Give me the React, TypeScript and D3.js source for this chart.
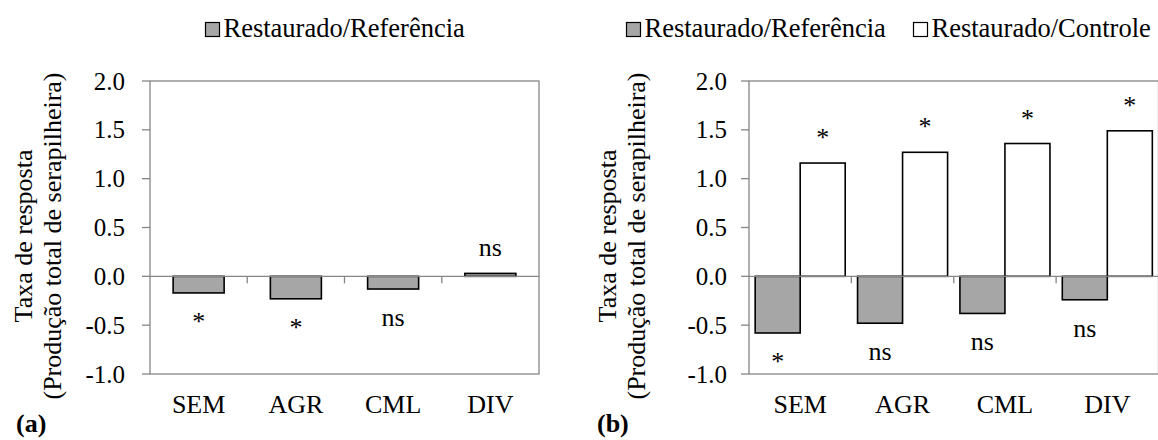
import React from "react";
import * as d3 from "d3";

// Categories and response ratios
const categories = ["SEM", "AGR", "CML", "DIV"];
const seriesNames = ["Restaurado/Referência", "Restaurado/Controle"];

// Panel (a): Restaurado/Referência
const refValuesA = [-0.17, -0.23, -0.13, 0.03];
const sigRefA = ["*", "*", "ns", "ns"];

// Panel (b): Restaurado/Referência and Restaurado/Controle
const refValuesB = [-0.58, -0.48, -0.38, -0.24];
const sigRefB = ["*", "ns", "ns", "ns"];
const ctrlValuesB = [1.16, 1.27, 1.36, 1.49];
const sigCtrlB = ["*", "*", "*", "*"];

const yTicks = [-1.0, -0.5, 0.0, 0.5, 1.0, 1.5, 2.0];
const yTitle = ["Taxa de resposta", "(Produção total de serapilheira)"];
const panelLabels = ["(a)", "(b)"];

const FONT = "'Liberation Serif', 'Times New Roman', serif";
const AXIS = "#868686";
const GRAY = "#a6a6a6";

type Series = { name: string; values: number[]; sig: string[]; fill: string };

function Panel(props: {
  left: number;
  right: number;
  series: Series[];
  outerPad: number;
  legendX: number;
  titleX: [number, number];
  label: string;
  labelX: number;
  tickLabelGap: number;
}) {
  const { left, right, series, outerPad, legendX, titleX, label, labelX } = props;
  const top = 81;
  const bottom = 374;
  const y = d3.scaleLinear().domain([-1, 2]).range([bottom, top]);
  const x0 = d3.scaleBand<string>().domain(categories).range([left, right]).padding(0);
  const x1 = d3
    .scaleBand<string>()
    .domain(series.map((s) => s.name))
    .range([0, x0.bandwidth()])
    .paddingInner(0)
    .paddingOuter(outerPad);
  const y0 = y(0);
  const midY = 236;

  // legend entries laid out left to right
  const legendItems = series.map((s, k) => ({ s, x: legendX + k * 287 }));

  return (
    <g>
      {/* legend */}
      {legendItems.map(({ s, x }) => (
        <g key={s.name}>
          <rect x={x + 0.5} y={22.5} width={14} height={14} fill={s.fill} stroke="#000" strokeWidth={1.2} />
          <text x={x + 18.5} y={37} fontSize={26.5} fontFamily={FONT} fill="#000">
            {s.name}
          </text>
        </g>
      ))}

      {/* plot frame */}
      <rect x={left} y={top} width={right - left} height={bottom - top} fill="none" stroke={AXIS} strokeWidth={1.3} />

      {/* y ticks */}
      {yTicks.map((t) => (
        <g key={t}>
          <line x1={left - 8} x2={left} y1={y(t)} y2={y(t)} stroke={AXIS} strokeWidth={1.3} />
          <text
            x={left - props.tickLabelGap}
            y={y(t)}
            dy="0.34em"
            textAnchor="end"
            fontSize={25}
            fontFamily={FONT}
            fill="#000"
          >
            {t.toFixed(1)}
          </text>
        </g>
      ))}

      {/* bars */}
      {series.map((s) =>
        s.values.map((v, i) => {
          const bx = (x0(categories[i]) as number) + (x1(s.name) as number);
          const yv = y(v);
          return (
            <rect
              key={s.name + i}
              x={bx}
              y={Math.min(yv, y0)}
              width={x1.bandwidth()}
              height={Math.abs(yv - y0)}
              fill={s.fill}
              stroke="#000"
              strokeWidth={1.6}
            />
          );
        })
      )}

      {/* category axis at zero */}
      <line x1={left} x2={right} y1={y0} y2={y0} stroke={AXIS} strokeWidth={1.3} />
      {categories.slice(1).map((c) => (
        <line
          key={c}
          x1={x0(c) as number}
          x2={x0(c) as number}
          y1={y0}
          y2={y0 + 7}
          stroke={AXIS}
          strokeWidth={1.3}
        />
      ))}

      {/* significance labels */}
      {series.map((s) =>
        s.values.map((v, i) => {
          const cx = (x0(categories[i]) as number) + (x1(s.name) as number) + x1.bandwidth() / 2;
          const ty = v >= 0 ? y(v) - 17 : y(v) + 37;
          return (
            <text
              key={"sig" + s.name + i}
              x={cx}
              y={ty}
              textAnchor="middle"
              fontSize={26}
              fontFamily={FONT}
              fill="#000"
            >
              {s.sig[i]}
            </text>
          );
        })
      )}

      {/* category labels */}
      {categories.map((c) => (
        <text
          key={c}
          x={(x0(c) as number) + x0.bandwidth() / 2}
          y={413}
          textAnchor="middle"
          fontSize={26}
          fontFamily={FONT}
          fill="#000"
        >
          {c}
        </text>
      ))}

      {/* y axis title */}
      {yTitle.map((t, k) => (
        <text
          key={t}
          transform={`translate(${titleX[k]},${midY}) rotate(-90)`}
          textAnchor="middle"
          fontSize={26}
          fontFamily={FONT}
          fill="#000"
        >
          {t}
        </text>
      ))}

      {/* panel label */}
      <text x={labelX} y={432} fontSize={26} fontWeight="bold" fontFamily={FONT} fill="#000">
        {label}
      </text>
    </g>
  );
}

export default function App() {
  const seriesA: Series[] = [{ name: seriesNames[0], values: refValuesA, sig: sigRefA, fill: GRAY }];
  const seriesB: Series[] = [
    { name: seriesNames[0], values: refValuesB, sig: sigRefB, fill: GRAY },
    { name: seriesNames[1], values: ctrlValuesB, sig: sigCtrlB, fill: "#ffffff" },
  ];
  return (
    <svg
      width={1158}
      height={440}
      style={{ position: "absolute", left: 0, top: 0, background: "#fff" }}
    >
      <rect width={1158} height={440} fill="#fff" />
      <Panel
        left={150}
        right={539}
        series={seriesA}
        outerPad={0.453}
        legendX={205}
        titleX={[32, 61]}
        label={panelLabels[0]}
        labelX={16}
        tickLabelGap={25}
      />
      <Panel
        left={749}
        right={1158.5}
        series={seriesB}
        outerPad={0.137}
        legendX={626}
        titleX={[616, 645]}
        label={panelLabels[1]}
        labelX={597}
        tickLabelGap={22}
      />
    </svg>
  );
}
